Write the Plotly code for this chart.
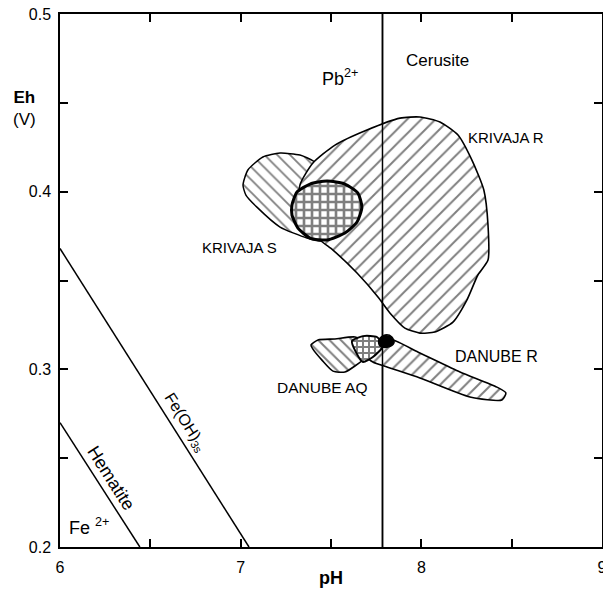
import plotly.graph_objects as go

# ---------------- data (pH, Eh in V) ----------------
krivaja_r_ph = [7.400, 7.522, 7.699, 7.882, 7.992, 8.103, 8.203, 8.280, 8.346, 8.369,
                8.369, 8.313, 8.252, 8.175, 8.075, 7.992, 7.909, 7.826, 7.760, 7.644,
                7.511, 7.439, 7.328, 7.328]
krivaja_r_eh = [0.4161, 0.4262, 0.4347, 0.4414, 0.4420, 0.4392, 0.4319, 0.4178, 0.4009, 0.3812,
                0.3615, 0.3531, 0.3390, 0.3266, 0.3210, 0.3204, 0.3232, 0.3317, 0.3407, 0.3542,
                0.3671, 0.3728, 0.3868, 0.4037]

krivaja_s_ph = [7.013, 7.040, 7.123, 7.218, 7.328, 7.411, 7.550, 7.550, 7.439, 7.367,
                7.218, 7.090, 7.029]
krivaja_s_eh = [0.4037, 0.4122, 0.4195, 0.4217, 0.4206, 0.4167, 0.3981, 0.3784, 0.3722, 0.3739,
                0.3801, 0.3913, 0.3981]

krivaja_ov_ph = [7.284, 7.312, 7.384, 7.478, 7.577, 7.649, 7.671, 7.644, 7.577, 7.478,
                 7.384, 7.317, 7.284]
krivaja_ov_eh = [0.3925, 0.3998, 0.4043, 0.4060, 0.4043, 0.3992, 0.3913, 0.3829, 0.3767, 0.3728,
                 0.3739, 0.3795, 0.3868]

danube_r_ph = [7.716, 7.810, 7.992, 8.214, 8.418, 8.468, 8.446, 8.269, 7.992, 7.810, 7.732, 7.688]
danube_r_eh = [0.3137, 0.3176, 0.3092, 0.2985, 0.2900, 0.2867, 0.2827, 0.2844, 0.2951, 0.3013,
               0.3041, 0.3080]

danube_aq_ph = [7.389, 7.428, 7.522, 7.633, 7.727, 7.688, 7.577, 7.511, 7.450, 7.400]
danube_aq_eh = [0.3137, 0.3165, 0.3171, 0.3182, 0.3137, 0.3064, 0.2985, 0.2990, 0.3052, 0.3114]

danube_ov_ph = [7.616, 7.677, 7.754, 7.788, 7.732, 7.677, 7.638]
danube_ov_eh = [0.3159, 0.3187, 0.3182, 0.3131, 0.3069, 0.3041, 0.3097]

danube_blob_ph = [7.765, 7.799, 7.837, 7.848, 7.815, 7.771]
danube_blob_eh = [0.3165, 0.3193, 0.3182, 0.3148, 0.3125, 0.3131]

hematite_ph = [6.0, 6.442]
hematite_eh = [0.270, 0.200]
feoh3_ph = [6.0, 7.046]
feoh3_eh = [0.368, 0.200]
cerusite_ph = [7.785, 7.785]
cerusite_eh = [0.200, 0.500]

x_ticks = [6, 7, 8, 9]
y_ticks = [0.2, 0.3, 0.4, 0.5]

FONT = "Liberation Sans"

fig = go.Figure()


def closed(a):
    return list(a) + [a[0]]


def region(xs, ys, shape, size, solidity, lw):
    fig.add_trace(go.Scatter(
        x=closed(xs), y=closed(ys), mode="lines", fill="toself",
        fillcolor="white",
        fillpattern=dict(shape=shape, size=size, solidity=solidity,
                         fgcolor="black", bgcolor="white"),
        line=dict(color="black", width=lw, shape="spline", smoothing=0.6),
        hoverinfo="skip", showlegend=False))


# stability boundaries
for xs, ys in [(hematite_ph, hematite_eh), (feoh3_ph, feoh3_eh), (cerusite_ph, cerusite_eh)]:
    fig.add_trace(go.Scatter(x=xs, y=ys, mode="lines", line=dict(color="black", width=1.5),
                             hoverinfo="skip", showlegend=False))

region(krivaja_s_ph, krivaja_s_eh, "\\", 9, 0.2, 1.5)
region(krivaja_r_ph, krivaja_r_eh, "/", 10, 0.2, 1.6)
region(krivaja_ov_ph, krivaja_ov_eh, "+", 8, 0.55, 3)
region(danube_aq_ph, danube_aq_eh, "\\", 8, 0.25, 1.6)
region(danube_r_ph, danube_r_eh, "/", 9, 0.22, 1.6)
region(danube_ov_ph, danube_ov_eh, "+", 6, 0.55, 2)

fig.add_trace(go.Scatter(
    x=closed(danube_blob_ph), y=closed(danube_blob_eh), mode="lines", fill="toself",
    fillcolor="black", line=dict(color="black", width=1.5, shape="spline"),
    hoverinfo="skip", showlegend=False))

# redraw vertical boundary on top
fig.add_trace(go.Scatter(x=cerusite_ph, y=cerusite_eh, mode="lines",
                         line=dict(color="black", width=1.5),
                         hoverinfo="skip", showlegend=False))

labels = [
    ("Cerusite", 8.092, 0.474, 17, 0),
    ("Pb<sup>2+</sup>", 7.552, 0.4645, 18, 0),
    ("KRIVAJA R", 8.468, 0.4307, 15, 0),
    ("KRIVAJA S", 6.996, 0.3683, 15, 0),
    ("DANUBE R", 8.418, 0.3075, 16, 0),
    ("DANUBE AQ", 7.450, 0.2895, 15.5, 0),
    ("Hematite", 6.282, 0.2388, 18, 57.5),
    ("Fe(OH)<sub>3s</sub>", 6.692, 0.2698, 16, 57.5),
    ("Fe <sup>2+</sup>", 6.160, 0.2118, 18, 0),
]
for txt, x, y, sz, ang in labels:
    fig.add_annotation(x=x, y=y, xref="x", yref="y", text=txt, showarrow=False,
                       textangle=ang, xanchor="center", yanchor="middle",
                       font=dict(family=FONT, size=sz, color="black"))

fig.add_annotation(x=-0.066, y=0.8236, xref="paper", yref="paper",
                   text="<b>Eh</b><br>(V)", showarrow=False,
                   xanchor="center", yanchor="middle",
                   font=dict(family=FONT, size=17, color="black"))
fig.add_annotation(x=0.5, y=-0.058, xref="paper", yref="paper", text="<b>pH</b>",
                   showarrow=False, xanchor="center", yanchor="middle",
                   font=dict(family=FONT, size=18, color="black"))

axis_common = dict(showgrid=False, zeroline=False, showline=True, linecolor="black",
                   linewidth=1.5, mirror="ticks", ticks="inside", ticklen=8, tickwidth=1.5,
                   tickcolor="black", ticklabeloverflow="allow", automargin=False,
                   tickfont=dict(family=FONT, size=16, color="black"))

fig.update_xaxes(range=[6, 9], tickvals=x_ticks, ticktext=[str(v) for v in x_ticks],
                 ticklabelstandoff=5,
                 minor=dict(dtick=0.5, ticks="inside", ticklen=8, tickwidth=1.5,
                            tickcolor="black", showgrid=False),
                 **axis_common)
fig.update_yaxes(range=[0.2, 0.5], tickvals=y_ticks, ticktext=[f"{v:.1f}" for v in y_ticks],
                 ticklabelstandoff=4,
                 minor=dict(dtick=0.05, ticks="inside", ticklen=8, tickwidth=1.5,
                            tickcolor="black", showgrid=False),
                 **axis_common)

fig.update_layout(width=603, height=589, margin=dict(l=60, r=1, t=14, b=42, autoexpand=False),
                  paper_bgcolor="white", plot_bgcolor="white", showlegend=False)

fig.write_html("out.html")
